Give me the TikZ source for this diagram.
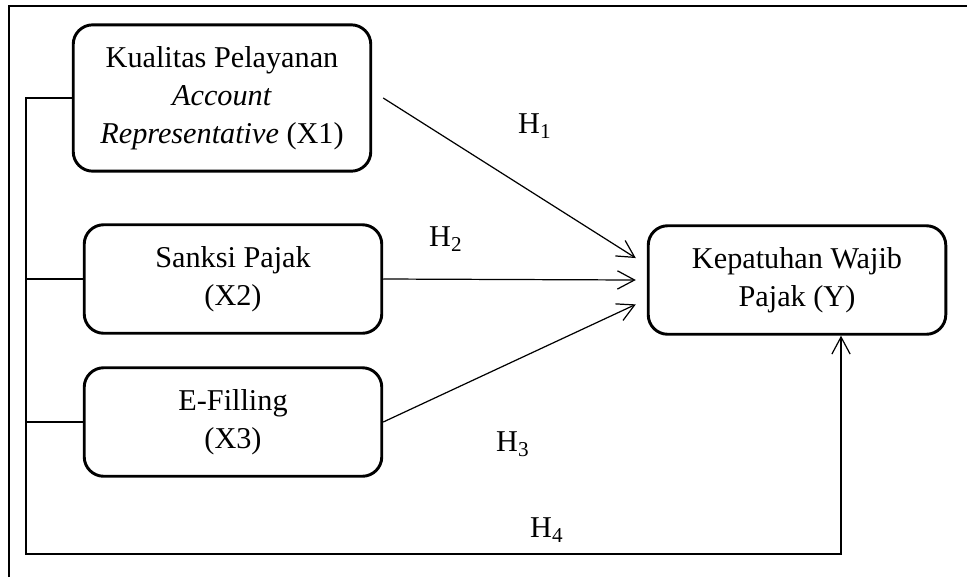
\documentclass[tikz,border=0pt]{standalone}
\usepackage{fontspec}
\setmainfont{Liberation Serif}
\usetikzlibrary{arrows.meta}

\begin{document}
\begin{tikzpicture}[
      x=0.41pt, y=-0.41pt,
      box/.style={draw, line width=1.2pt, rounded corners=8pt, align=center,
                  minimum width=122pt, minimum height=44.5pt, inner sep=2pt,
                  font=\fontsize{12.4}{15.5}\selectfont},
      hyp/.style={font=\fontsize{12.4}{14}\selectfont, inner sep=0pt},
      link/.style={line width=0.5pt},
      >={Straight Barb[length=7pt,width=7.5pt]}]
    \useasboundingbox (0,0) rectangle (967,577);
    % outer frame, only its top and left edges are on the page
    \draw[line width=1.1pt] (9,577) -- (9,6) -- (967,6);
    \node[box, minimum height=60pt] (x1) at (222,98) {Kualitas Pelayanan\\ \textit{Account}\\ \textit{Representative} (X1)};
    \node[box] (x2) at (233,279) {Sanksi Pajak\\ (X2)};
    \node[box] (x3) at (233,422) {E-Filling\\ (X3)};
    \node[box] (y) at (797,280) {Kepatuhan Wajib\\ Pajak (Y)};
    \coordinate (spine) at (26,554);
    \coordinate (turn) at (841,554);
    \draw[link, ->] (x1.west) -| (spine) -- (turn) -- (turn |- y.south);
    \draw[link] (x2.west) -- (x2.west -| spine);
    \draw[link] (x3.west) -- (x3.west -| spine);
    \draw[link, ->] ([xshift=4.5pt]x1.east) -- ([xshift=-4.5pt, yshift=9pt]y.west);
    \draw[link, ->] (x2.east) -- ([xshift=-4.5pt]y.west);
    \draw[link, ->] (x3.east) -- ([xshift=-4.5pt, yshift=-10pt]y.west);
    \node[hyp] (h1) at (535,126) {H\textsubscript{1}};
    \node[hyp] (h2) at (446,239) {H\textsubscript{2}};
    \node[hyp] (h3) at (513,444) {H\textsubscript{3}};
    \node[hyp] (h4) at (547,530) {H\textsubscript{4}};
  \end{tikzpicture}
\end{document}
